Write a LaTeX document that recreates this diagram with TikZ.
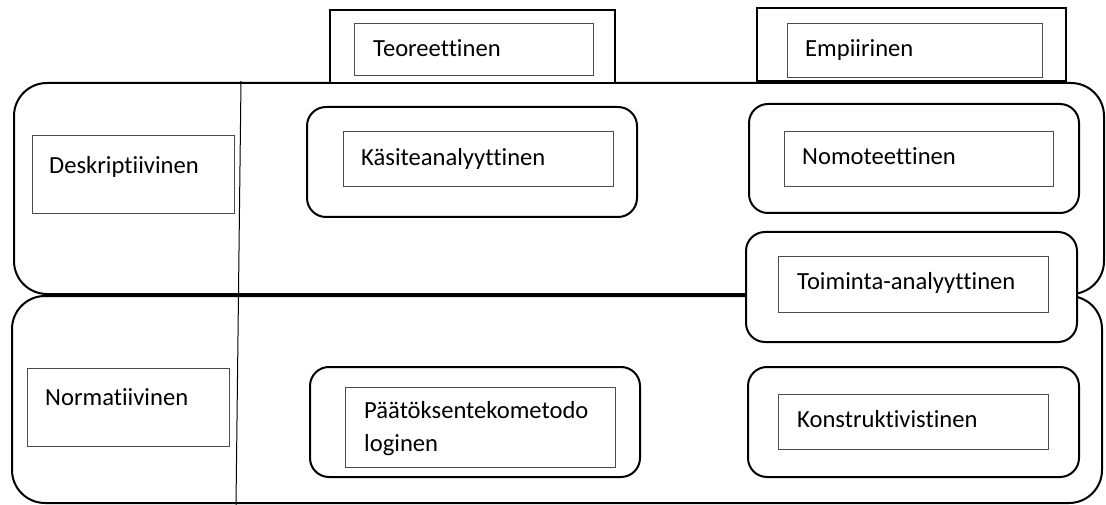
\documentclass[tikz,border=0pt]{standalone}
\usepackage{fontspec}
\setmainfont[Ligatures={NoCommon}]{Carlito}
\begin{document}
\begin{tikzpicture}[x=1pt,y=-1pt,
  bandbox/.style={draw, line width=2pt, rounded corners=33pt, inner sep=0pt, outer sep=0pt},
  framebox/.style={draw, line width=2pt, fill=white, rounded corners=19pt, inner sep=0pt, outer sep=0pt},
  headbox/.style={draw, line width=2pt, fill=white, inner sep=0pt, outer sep=0pt},
  inbox/.style={draw=black!70, line width=1pt, fill=white, inner sep=0pt, outer sep=0pt},
  lbl/.style={anchor=base west, inner sep=0pt,
    font=\fontsize{24.6}{33}\selectfont},
  divider/.style={draw, line width=1pt}]
\useasboundingbox (0,0) rectangle (1106,505);

% the two horizontal bands
\node[bandbox, minimum width=1090, minimum height=211] (bandD) at (559,188.5) {};
\node[bandbox, minimum width=1090, minimum height=207] (bandN) at (557,399.5) {};

% vertical divider between row labels and the method grid
\coordinate (divtop) at (241,81);
\coordinate (divbot) at (236,505);
\draw[divider] (divtop) -- (divbot);

% column headings
\node[headbox, minimum width=285, minimum height=73] (headT) at (472.5,46.5) {};
\node[inbox, minimum width=239, minimum height=52] (boxT) at (473.5,50) {};
\node[lbl] (txtT) at (373,57) {Teoreettinen};

\node[headbox, minimum width=309, minimum height=73] (headE) at (911.5,44.5) {};
\node[inbox, minimum width=255, minimum height=54] (boxE) at (914.5,51) {};
\node[lbl] (txtE) at (805,57) {Empiirinen};

% row headings
\node[inbox, minimum width=202, minimum height=78] (boxD) at (133,175) {};
\node[lbl] (txtD) at (49,174) {Deskriptiivinen};

\node[inbox, minimum width=202, minimum height=78] (boxN) at (128,407) {};
\node[lbl] (txtN) at (45,405) {Normatiivinen};

% approaches
\node[framebox, minimum width=330, minimum height=110] (frK) at (472,162) {};
\node[inbox, minimum width=270, minimum height=55] (boxK) at (478,159.5) {};
\node[lbl] (txtK) at (361,166) {Käsiteanalyyttinen};

\node[framebox, minimum width=330, minimum height=109] (frNo) at (914,158.5) {};
\node[inbox, minimum width=269, minimum height=55] (boxNo) at (918.5,159.5) {};
\node[lbl] (txtNo) at (802,165) {Nomoteettinen};

\node[framebox, minimum width=331, minimum height=110] (frTo) at (911.5,287) {};
\node[inbox, minimum width=270, minimum height=55] (boxTo) at (913,284.5) {};
\node[lbl] (txtTo) at (797,290) {Toiminta-analyyttinen};

\node[framebox, minimum width=330, minimum height=110] (frP) at (475,422) {};
\node[inbox, minimum width=270, minimum height=80] (boxP) at (480,427) {};
\node[lbl] (txtPa) at (364,418) {Päätöksentekometodo};
\node[lbl] (txtPb) at (364,451) {loginen};

\node[framebox, minimum width=331, minimum height=110] (frKo) at (913.5,422) {};
\node[inbox, minimum width=270, minimum height=55] (boxKo) at (913,421.5) {};
\node[lbl] (txtKo) at (797,427) {Konstruktivistinen};
\end{tikzpicture}
\end{document}
